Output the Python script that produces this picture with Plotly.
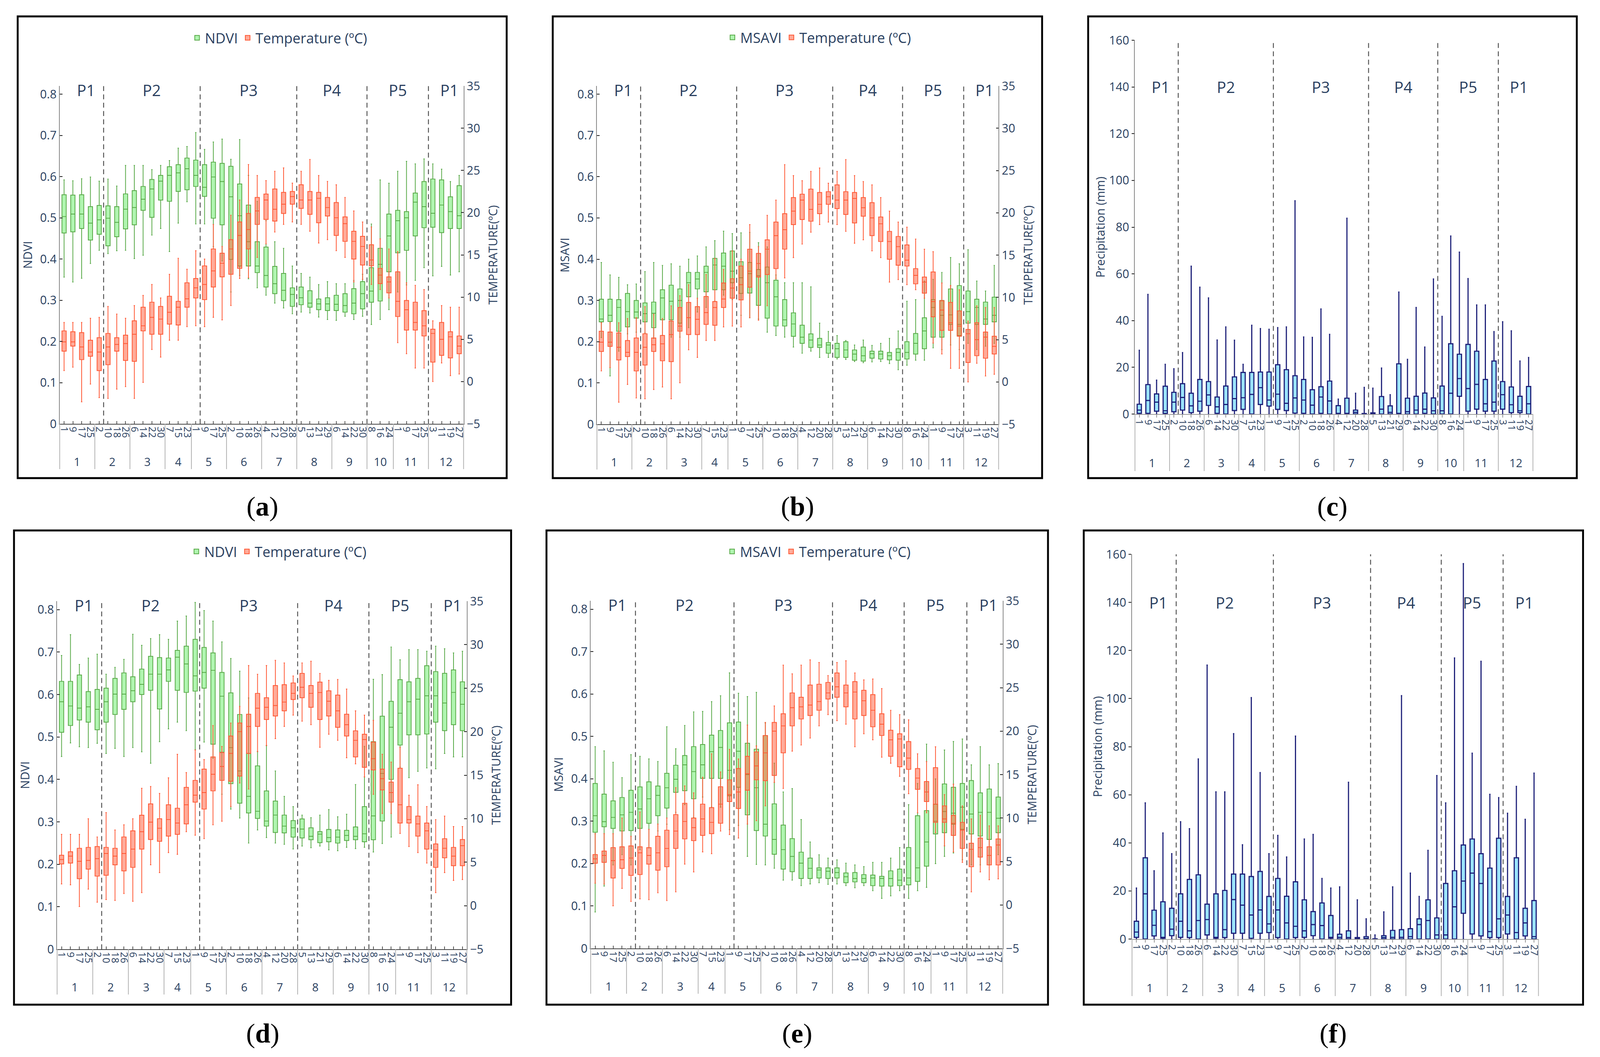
import plotly.graph_objects as go

# 8-day composites, grouped by month
MONTH_DAYS = [
    ("1", ["1", "9", "17", "25"]),
    ("2", ["2", "10", "18", "26"]),
    ("3", ["6", "14", "22", "30"]),
    ("4", ["7", "15", "23"]),
    ("5", ["1", "9", "17", "25"]),
    ("6", ["2", "10", "18", "26"]),
    ("7", ["4", "12", "20", "28"]),
    ("8", ["5", "13", "21", "29"]),
    ("9", ["6", "14", "22", "30"]),
    ("10", ["8", "16", "24"]),
    ("11", ["1", "9", "17", "25"]),
    ("12", ["3", "11", "19", "27"]),
]
MONTHS = [m for m, ds in MONTH_DAYS for _ in ds]
DAYS = [d for _, ds in MONTH_DAYS for d in ds]
CATS = [f"{m}/{d}" for m, d in zip(MONTHS, DAYS)]

# first composite of each new period
PERIOD_START = ["2/10", "5/9", "8/5", "10/8", "12/3"]
PERIOD_NAMES = ["P1", "P2", "P3", "P4", "P5", "P1"]

# box stats per composite: (lower whisker, q1, median, q3, upper whisker)
NDVI_A = [
    (0.356, 0.463, 0.503, 0.556, 0.592), (0.344, 0.466, 0.509, 0.555, 0.590),
    (0.353, 0.474, 0.509, 0.556, 0.595), (0.389, 0.446, 0.487, 0.527, 0.599),
    (0.421, 0.460, 0.495, 0.530, 0.589), (0.413, 0.432, 0.499, 0.529, 0.594),
    (0.420, 0.454, 0.489, 0.527, 0.577), (0.421, 0.473, 0.521, 0.558, 0.627),
    (0.401, 0.483, 0.525, 0.566, 0.627), (0.409, 0.518, 0.545, 0.576, 0.627),
    (0.458, 0.501, 0.570, 0.593, 0.617), (0.474, 0.543, 0.589, 0.603, 0.627),
    (0.418, 0.540, 0.603, 0.624, 0.639), (0.487, 0.564, 0.609, 0.629, 0.669),
    (0.539, 0.568, 0.619, 0.645, 0.673), (0.485, 0.576, 0.603, 0.640, 0.707),
    (0.485, 0.552, 0.574, 0.629, 0.666), (0.430, 0.499, 0.599, 0.635, 0.684),
    (0.395, 0.483, 0.588, 0.632, 0.691), (0.320, 0.399, 0.551, 0.625, 0.642),
    (0.360, 0.383, 0.505, 0.582, 0.690), (0.352, 0.383, 0.442, 0.531, 0.603),
    (0.330, 0.367, 0.383, 0.442, 0.540), (0.312, 0.332, 0.360, 0.429, 0.493),
    (0.293, 0.316, 0.340, 0.382, 0.442), (0.281, 0.299, 0.324, 0.365, 0.426),
    (0.267, 0.285, 0.314, 0.330, 0.383), (0.271, 0.289, 0.306, 0.332, 0.365),
    (0.269, 0.283, 0.293, 0.323, 0.356), (0.259, 0.277, 0.291, 0.303, 0.338),
    (0.253, 0.275, 0.291, 0.306, 0.345), (0.251, 0.275, 0.290, 0.312, 0.340),
    (0.261, 0.271, 0.287, 0.316, 0.340), (0.253, 0.267, 0.293, 0.328, 0.348),
    (0.261, 0.279, 0.316, 0.345, 0.363), (0.241, 0.295, 0.322, 0.379, 0.485),
    (0.253, 0.298, 0.387, 0.426, 0.592), (0.277, 0.369, 0.456, 0.509, 0.584),
    (0.320, 0.415, 0.493, 0.518, 0.613), (0.337, 0.421, 0.500, 0.515, 0.637),
    (0.348, 0.456, 0.538, 0.560, 0.631), (0.379, 0.476, 0.527, 0.588, 0.643),
    (0.359, 0.477, 0.511, 0.594, 0.631), (0.382, 0.464, 0.531, 0.592, 0.618),
    (0.361, 0.474, 0.515, 0.551, 0.588), (0.369, 0.474, 0.505, 0.578, 0.603),
]

MSAVI_B = [
    (0.210, 0.248, 0.255, 0.303, 0.392), (0.117, 0.249, 0.264, 0.303, 0.362),
    (0.177, 0.225, 0.283, 0.302, 0.356), (0.219, 0.236, 0.273, 0.317, 0.338),
    (0.223, 0.257, 0.272, 0.300, 0.340), (0.221, 0.248, 0.268, 0.294, 0.370),
    (0.208, 0.234, 0.269, 0.296, 0.392), (0.215, 0.253, 0.306, 0.326, 0.385),
    (0.211, 0.253, 0.298, 0.337, 0.389), (0.211, 0.245, 0.300, 0.328, 0.383),
    (0.234, 0.309, 0.343, 0.368, 0.400), (0.272, 0.328, 0.352, 0.368, 0.408),
    (0.283, 0.321, 0.368, 0.383, 0.430), (0.298, 0.326, 0.386, 0.402, 0.445),
    (0.313, 0.326, 0.383, 0.415, 0.468), (0.302, 0.343, 0.371, 0.420, 0.462),
    (0.264, 0.317, 0.355, 0.394, 0.464), (0.258, 0.318, 0.365, 0.392, 0.465),
    (0.255, 0.288, 0.360, 0.375, 0.440), (0.223, 0.257, 0.343, 0.381, 0.430),
    (0.215, 0.238, 0.309, 0.349, 0.362), (0.211, 0.238, 0.253, 0.302, 0.343),
    (0.187, 0.213, 0.243, 0.270, 0.343), (0.172, 0.196, 0.211, 0.240, 0.343),
    (0.177, 0.186, 0.204, 0.219, 0.333), (0.162, 0.186, 0.192, 0.208, 0.245),
    (0.162, 0.172, 0.192, 0.198, 0.225), (0.158, 0.162, 0.183, 0.196, 0.215),
    (0.157, 0.162, 0.180, 0.200, 0.203), (0.152, 0.155, 0.170, 0.180, 0.192),
    (0.149, 0.153, 0.166, 0.187, 0.204), (0.151, 0.160, 0.171, 0.177, 0.191),
    (0.152, 0.158, 0.170, 0.177, 0.196), (0.147, 0.156, 0.166, 0.174, 0.208),
    (0.132, 0.155, 0.174, 0.183, 0.226), (0.143, 0.158, 0.174, 0.200, 0.298),
    (0.155, 0.170, 0.196, 0.220, 0.302), (0.155, 0.183, 0.226, 0.258, 0.347),
    (0.185, 0.211, 0.283, 0.302, 0.351), (0.181, 0.211, 0.264, 0.300, 0.368),
    (0.192, 0.242, 0.265, 0.328, 0.404), (0.181, 0.215, 0.242, 0.336, 0.389),
    (0.196, 0.245, 0.273, 0.323, 0.423), (0.181, 0.242, 0.283, 0.303, 0.347),
    (0.189, 0.242, 0.255, 0.296, 0.323), (0.196, 0.248, 0.264, 0.308, 0.385),
]

# temperature (degC) shown in (a) and (b)
TEMP_AB = [
    (1.3, 3.6, 4.7, 6.0, 7.0), (1.7, 4.2, 4.7, 5.9, 7.0), (-2.4, 2.6, 4.1, 5.8, 7.0),
    (-0.3, 3.0, 3.5, 4.9, 7.5), (-1.9, 1.3, 3.5, 5.2, 7.6), (-2.0, 2.0, 4.1, 5.7, 8.9),
    (-0.9, 3.6, 4.4, 5.2, 8.0), (-0.6, 2.5, 4.5, 5.5, 7.5), (-2.0, 2.4, 5.6, 7.2, 9.0),
    (-0.1, 6.0, 6.6, 8.8, 10.2), (3.8, 5.6, 7.6, 9.4, 11.5), (2.9, 5.6, 7.4, 8.9, 9.9),
    (4.9, 6.8, 8.2, 10.1, 12.7), (4.9, 6.7, 8.8, 9.5, 14.6), (6.5, 8.8, 9.8, 11.7, 13.3),
    (6.6, 9.9, 11.1, 12.2, 15.5), (6.5, 9.7, 11.5, 13.7, 14.5), (7.6, 11.2, 13.1, 15.7, 18.6),
    (7.3, 12.4, 14.0, 15.2, 16.0), (9.0, 12.7, 15.7, 16.8, 19.7), (12.2, 13.4, 17.3, 18.9, 21.5),
    (12.3, 15.7, 18.0, 19.9, 25.7), (14.7, 18.6, 20.2, 21.8, 24.4), (16.3, 19.2, 21.5, 22.2, 23.8),
    (17.7, 19.0, 20.4, 22.8, 24.9), (18.6, 19.9, 21.0, 22.4, 25.3), (18.9, 21.0, 21.9, 22.5, 23.5),
    (18.6, 20.5, 21.5, 23.3, 24.9), (17.8, 19.8, 21.5, 22.5, 26.3), (16.4, 18.8, 21.7, 22.4, 24.4),
    (16.8, 19.6, 20.6, 21.8, 23.7), (15.5, 17.3, 19.4, 21.2, 23.3), (14.7, 16.6, 18.7, 19.5, 21.8),
    (11.8, 14.5, 16.6, 17.8, 20.2), (12.1, 13.8, 16.0, 17.2, 18.9), (11.5, 13.7, 14.4, 16.2, 18.3),
    (10.9, 11.6, 12.6, 13.4, 16.9), (9.9, 10.5, 11.8, 12.4, 15.7), (4.6, 7.7, 9.5, 13.0, 15.4),
    (3.3, 6.1, 8.5, 9.6, 11.7), (1.6, 6.1, 7.0, 9.4, 11.4), (1.6, 5.4, 6.6, 8.4, 10.9),
    (0.0, 2.3, 5.7, 6.2, 7.2), (2.2, 3.1, 5.0, 7.0, 9.0), (0.7, 2.8, 5.3, 5.9, 8.8),
    (0.9, 3.3, 4.2, 5.4, 8.8),
]

PRECIP_C = [
    (0, 0.3, 1.7, 4.2, 27.3), (0, 0.3, 5.8, 12.6, 51.2), (0, 1.2, 5.1, 8.6, 14.5),
    (0, 0.3, 1.4, 11.9, 21.3), (0, 1.0, 5.1, 9.3, 19.4), (0, 1.7, 7.1, 13.0, 26.3),
    (0, 0.6, 3.5, 8.9, 63.3), (0, 1.2, 5.5, 14.8, 54.3), (0, 3.7, 8.2, 13.9, 49.7),
    (0, 0.3, 3.1, 7.3, 31.7), (0, 0.0, 4.1, 12.0, 37.3), (0, 1.5, 6.6, 15.9, 31.6),
    (0, 2.0, 7.0, 17.8, 21.3), (0, 0.0, 8.4, 17.8, 38.0), (0, 4.1, 11.3, 18.0, 36.6),
    (0, 3.4, 6.0, 18.0, 36.3), (0, 2.0, 8.5, 21.1, 37.0), (0, 1.5, 4.6, 19.0, 37.3),
    (0, 0.4, 6.9, 16.4, 91.3), (0, 0.3, 6.0, 14.8, 33.0), (0, 0.0, 3.8, 10.4, 32.8),
    (0, 0.3, 7.3, 11.7, 45.0), (0, 0.0, 5.6, 14.1, 34.1), (0, 0.0, 0.3, 3.6, 6.4),
    (0, 0.0, 0.3, 6.8, 83.8), (0, 0.0, 0.7, 1.7, 8.9), (0, 0.0, 0.0, 0.2, 11.4),
    (0, 0.0, 0.2, 0.5, 11.1), (0, 0.0, 2.1, 7.5, 19.7), (0, 0.0, 0.7, 3.5, 8.3),
    (0, 0.0, 0.3, 21.5, 52.2), (0, 0.0, 1.0, 6.8, 23.4), (0, 0.0, 1.7, 7.6, 45.6),
    (0, 0.3, 2.1, 9.0, 28.7), (0, 0.0, 1.4, 6.9, 57.8), (0, 0.0, 1.4, 12.0, 41.8),
    (0, 0.0, 8.9, 30.1, 76.2), (0, 7.6, 15.2, 25.6, 69.3), (0, 1.2, 10.9, 29.8, 58.0),
    (0, 2.1, 12.7, 26.9, 46.7), (0, 1.2, 4.4, 14.8, 46.7), (0, 1.2, 5.1, 22.7, 35.3),
    (0, 2.1, 8.3, 13.9, 39.5), (0, 0.6, 4.0, 11.6, 35.6), (0, 0.6, 1.4, 7.6, 22.7),
    (0, 0.0, 4.4, 11.8, 24.2),
]

NDVI_D = [
    (0.454, 0.511, 0.583, 0.631, 0.692), (0.486, 0.527, 0.573, 0.631, 0.741),
    (0.477, 0.540, 0.568, 0.646, 0.671), (0.475, 0.535, 0.571, 0.607, 0.686),
    (0.485, 0.517, 0.565, 0.612, 0.695), (0.461, 0.535, 0.583, 0.615, 0.648),
    (0.473, 0.553, 0.601, 0.638, 0.664), (0.454, 0.565, 0.601, 0.651, 0.683),
    (0.475, 0.583, 0.609, 0.642, 0.742), (0.465, 0.600, 0.624, 0.660, 0.716),
    (0.438, 0.610, 0.648, 0.690, 0.732), (0.489, 0.566, 0.648, 0.687, 0.741),
    (0.519, 0.631, 0.658, 0.686, 0.730), (0.535, 0.610, 0.688, 0.704, 0.773),
    (0.515, 0.605, 0.672, 0.714, 0.785), (0.470, 0.608, 0.644, 0.730, 0.817),
    (0.488, 0.615, 0.652, 0.711, 0.798), (0.450, 0.483, 0.657, 0.698, 0.773),
    (0.365, 0.464, 0.596, 0.652, 0.724), (0.330, 0.390, 0.475, 0.604, 0.685),
    (0.309, 0.344, 0.420, 0.553, 0.655), (0.250, 0.321, 0.360, 0.461, 0.592),
    (0.281, 0.308, 0.325, 0.432, 0.466), (0.263, 0.290, 0.302, 0.373, 0.480),
    (0.250, 0.275, 0.316, 0.349, 0.420), (0.247, 0.274, 0.290, 0.316, 0.360),
    (0.236, 0.264, 0.286, 0.303, 0.336), (0.243, 0.262, 0.283, 0.307, 0.316),
    (0.239, 0.258, 0.266, 0.286, 0.310), (0.243, 0.251, 0.271, 0.277, 0.316),
    (0.234, 0.253, 0.263, 0.282, 0.329), (0.232, 0.250, 0.264, 0.281, 0.312),
    (0.240, 0.256, 0.268, 0.280, 0.318), (0.237, 0.258, 0.266, 0.288, 0.388),
    (0.240, 0.253, 0.272, 0.336, 0.478), (0.229, 0.258, 0.314, 0.489, 0.636),
    (0.249, 0.302, 0.414, 0.549, 0.647), (0.264, 0.400, 0.523, 0.584, 0.712),
    (0.429, 0.481, 0.556, 0.635, 0.682), (0.404, 0.505, 0.583, 0.630, 0.706),
    (0.419, 0.505, 0.589, 0.638, 0.706), (0.427, 0.507, 0.597, 0.668, 0.702),
    (0.425, 0.535, 0.597, 0.654, 0.714), (0.461, 0.515, 0.580, 0.650, 0.708),
    (0.453, 0.529, 0.605, 0.658, 0.698), (0.453, 0.515, 0.577, 0.630, 0.702),
]

MSAVI_E = [
    (0.086, 0.274, 0.313, 0.389, 0.476), (0.147, 0.287, 0.299, 0.364, 0.466),
    (0.197, 0.283, 0.309, 0.348, 0.439), (0.221, 0.277, 0.315, 0.356, 0.403),
    (0.197, 0.278, 0.321, 0.373, 0.457), (0.233, 0.283, 0.329, 0.381, 0.453),
    (0.237, 0.295, 0.353, 0.393, 0.447), (0.277, 0.313, 0.361, 0.383, 0.441),
    (0.293, 0.331, 0.379, 0.413, 0.523), (0.321, 0.368, 0.399, 0.432, 0.471),
    (0.339, 0.372, 0.433, 0.455, 0.526), (0.309, 0.353, 0.417, 0.476, 0.558),
    (0.357, 0.401, 0.433, 0.481, 0.559), (0.333, 0.401, 0.464, 0.503, 0.582),
    (0.333, 0.401, 0.474, 0.514, 0.596), (0.280, 0.360, 0.420, 0.532, 0.650),
    (0.290, 0.380, 0.465, 0.534, 0.602), (0.217, 0.315, 0.410, 0.484, 0.594),
    (0.198, 0.278, 0.379, 0.470, 0.604), (0.197, 0.265, 0.293, 0.502, 0.532),
    (0.189, 0.222, 0.257, 0.341, 0.437), (0.161, 0.187, 0.233, 0.291, 0.369),
    (0.161, 0.181, 0.217, 0.259, 0.377), (0.148, 0.165, 0.201, 0.227, 0.304),
    (0.152, 0.165, 0.189, 0.213, 0.251), (0.155, 0.166, 0.185, 0.190, 0.221),
    (0.151, 0.165, 0.182, 0.190, 0.213), (0.152, 0.166, 0.179, 0.190, 0.209),
    (0.148, 0.155, 0.169, 0.178, 0.201), (0.143, 0.157, 0.165, 0.179, 0.197),
    (0.148, 0.155, 0.165, 0.174, 0.193), (0.136, 0.148, 0.166, 0.173, 0.203),
    (0.118, 0.147, 0.165, 0.170, 0.203), (0.124, 0.147, 0.165, 0.183, 0.213),
    (0.136, 0.148, 0.161, 0.187, 0.238), (0.118, 0.150, 0.166, 0.238, 0.339),
    (0.136, 0.158, 0.190, 0.313, 0.389), (0.144, 0.194, 0.251, 0.325, 0.482),
    (0.200, 0.270, 0.300, 0.340, 0.400), (0.217, 0.273, 0.323, 0.388, 0.468),
    (0.225, 0.293, 0.319, 0.380, 0.488), (0.209, 0.281, 0.333, 0.389, 0.494),
    (0.197, 0.270, 0.317, 0.396, 0.433), (0.197, 0.265, 0.321, 0.367, 0.476),
    (0.197, 0.257, 0.321, 0.376, 0.433), (0.221, 0.273, 0.307, 0.357, 0.436),
]

# temperature (degC) shown in (d) and (e)
TEMP_DE = [
    (2.5, 4.8, 5.3, 5.8, 8.2), (2.4, 4.9, 5.7, 6.2, 8.2), (-0.1, 3.1, 5.1, 6.6, 8.2),
    (1.9, 4.2, 5.2, 6.7, 10.0), (0.4, 3.4, 5.4, 6.8, 7.9), (0.7, 3.5, 6.0, 6.7, 10.7),
    (0.6, 4.7, 5.7, 6.6, 8.7), (1.4, 4.0, 6.0, 7.9, 9.3), (0.5, 4.4, 6.5, 8.6, 10.0),
    (1.5, 6.5, 8.5, 10.4, 13.5), (4.7, 7.6, 9.6, 11.7, 13.7), (3.8, 7.4, 8.9, 10.0, 12.9),
    (6.1, 8.0, 9.9, 11.6, 14.7), (5.9, 8.2, 9.5, 11.2, 17.4), (8.5, 9.4, 11.6, 13.6, 15.3),
    (8.1, 11.9, 12.7, 14.4, 17.9), (7.7, 11.1, 13.0, 15.7, 16.8), (9.3, 13.2, 15.1, 17.1, 20.7),
    (9.7, 14.4, 16.0, 17.6, 18.3), (11.4, 14.3, 17.5, 19.5, 21.0), (14.1, 14.9, 20.0, 21.0, 22.9),
    (13.4, 17.5, 20.6, 22.0, 27.6), (17.7, 20.6, 22.7, 24.4, 26.6), (18.4, 21.4, 22.8, 23.9, 27.6),
    (19.2, 21.8, 23.0, 25.3, 28.2), (20.6, 22.4, 23.4, 25.4, 27.9), (21.9, 23.7, 24.4, 25.6, 26.4),
    (21.2, 23.9, 25.1, 26.7, 27.9), (20.8, 22.8, 24.4, 25.3, 28.1), (18.2, 21.4, 24.5, 25.7, 26.7),
    (19.7, 21.8, 23.5, 24.7, 25.9), (19.0, 20.5, 22.4, 24.2, 26.0), (17.0, 19.5, 20.8, 22.0, 24.9),
    (16.3, 17.1, 19.0, 20.1, 22.4), (14.8, 15.9, 19.1, 19.7, 21.9), (12.8, 15.6, 16.9, 18.8, 21.3),
    (10.6, 13.3, 14.6, 15.7, 17.4), (10.6, 11.9, 13.0, 14.2, 16.5), (8.3, 9.5, 11.6, 15.8, 18.2),
    (6.8, 9.5, 9.9, 11.4, 12.7), (6.1, 8.0, 9.4, 10.3, 13.9), (4.9, 6.5, 8.6, 9.5, 11.4),
    (1.5, 4.4, 6.4, 7.1, 9.9), (3.8, 5.5, 6.6, 7.7, 10.3), (2.9, 4.6, 5.7, 6.7, 9.1),
    (3.0, 4.6, 6.9, 7.6, 9.1),
]

PRECIP_F = [
    (0, 0.7, 2.9, 7.4, 21.2), (0, 0.0, 18.8, 33.8, 56.6), (0, 1.3, 5.7, 12.0, 28.4),
    (0, 0.3, 0.7, 15.5, 44.1), (0, 1.4, 4.1, 12.8, 35.5), (0, 0.7, 7.4, 18.8, 48.8),
    (0, 0.6, 3.4, 24.8, 45.9), (0, 0.0, 7.7, 26.7, 74.9), (0, 1.7, 8.1, 14.5, 113.9),
    (0, 0.3, 0.7, 18.8, 61.2), (0, 0.6, 3.9, 20.2, 61.2), (0, 2.4, 16.4, 27.0, 85.4),
    (0, 2.4, 14.1, 27.0, 39.2), (0, 0.3, 10.0, 26.0, 100.4), (0, 2.4, 12.1, 28.1, 69.2),
    (0, 2.7, 6.3, 17.7, 35.5), (0, 0.6, 12.1, 25.2, 43.1), (0, 0.0, 6.7, 17.8, 34.1),
    (0, 0.6, 5.3, 23.8, 84.4), (0, 0.7, 3.4, 16.3, 41.6), (0, 1.4, 6.0, 11.4, 43.5),
    (0, 0.0, 5.6, 15.0, 25.2), (0, 0.3, 0.7, 9.8, 21.2), (0, 0.0, 0.7, 2.0, 21.7),
    (0, 0.0, 0.6, 3.4, 65.2), (0, 0.0, 0.3, 0.6, 16.3), (0, 0.0, 0.3, 1.0, 8.4),
    (0, 0.0, 0.0, 0.1, 1.7), (0, 0.0, 0.6, 1.4, 11.3), (0, 0.0, 0.7, 3.6, 21.7),
    (0, 0.0, 0.7, 3.9, 101.2), (0, 0.0, 1.0, 4.3, 27.4), (0, 0.0, 6.0, 8.4, 17.7),
    (0, 0.0, 7.7, 16.3, 36.9), (0, 0.0, 1.7, 8.8, 68.0), (0, 0.0, 1.7, 23.1, 56.6),
    (0, 0.0, 13.4, 28.4, 116.9), (0, 10.7, 24.1, 39.1, 156.1), (0, 2.1, 27.4, 41.6, 77.3),
    (0, 1.3, 23.1, 35.5, 115.5), (0, 0.6, 3.1, 29.5, 60.2), (0, 0.6, 8.4, 41.9, 58.8),
    (0, 2.1, 10.0, 17.7, 52.3), (0, 0.0, 2.7, 33.8, 63.5), (0, 1.3, 6.7, 12.8, 49.8),
    (0, 0.0, 1.0, 16.0, 69.0),
]

# positions below are measured on a 4342 x 2706 canvas and used as paper fractions;
# the page fills the browser viewport, so pixel sizes get scaled by S
W, H = 4342, 2706
S = 0.97
FONT = "Open Sans"
TXT = "#2a3f5f"
GREEN, GREEN_FILL = "#56a845", "rgba(80,232,80,0.45)"
RED, RED_FILL = "#ff5733", "rgba(255,87,51,0.5)"
BLUE, BLUE_FILL = "#1c1f78", "rgba(55,200,250,0.5)"


def px(v):
    return v * S


# plot area (left, right, top, bottom), frame, legend centre
PANELS = [
    dict(tag="a", plot=(162, 1258, 220, 1085), frame=(48, 1375, 42, 1224), legend=(758, 97),
         left=("NDVI", NDVI_A), temp=TEMP_AB),
    dict(tag="b", plot=(1620, 2710, 220, 1086), frame=(1500, 2828, 42, 1224), legend=(2222, 96),
         left=("MSAVI", MSAVI_B), temp=TEMP_AB),
    dict(tag="c", plot=(3080, 4160, 103, 1060), frame=(2953, 4279, 42, 1224), legend=None,
         left=("Precipitation (mm)", PRECIP_C), temp=None),
    dict(tag="d", plot=(155, 1267, 1539, 2430), frame=(38, 1387, 1358, 2572), legend=(756, 1412),
         left=("NDVI", NDVI_D), temp=TEMP_DE),
    dict(tag="e", plot=(1603, 2721, 1538, 2428), frame=(1483, 2844, 1358, 2572), legend=(2221, 1412),
         left=("MSAVI", MSAVI_E), temp=TEMP_DE),
    dict(tag="f", plot=(3072, 4175, 1419, 2404), frame=(2941, 4296, 1358, 2572), legend=None,
         left=("Precipitation (mm)", PRECIP_F), temp=None),
]

n = len(CATS)
bounds = [CATS.index(c) - 0.5 for c in PERIOD_START]
edges = [-0.5] + bounds + [n - 0.5]
label_pos = [(edges[i] + edges[i + 1]) / 2 for i in range(len(PERIOD_NAMES))]
label_pos[0] += 0.5
label_pos[-1] += 0.4

# month groups on the category axis
month_edges = [-0.5]
month_mid = []
for m, ds in MONTH_DAYS:
    start = month_edges[-1]
    month_edges.append(start + len(ds))
    month_mid.append((m, start + len(ds) / 2))


def frac(pos):
    return (pos + 0.5) / n


def box(rows, name, xa, ya, color, fill, lw, legend):
    lo, q1, med, q3, hi = zip(*rows)
    return go.Box(
        x=CATS, lowerfence=lo, q1=q1, median=med, q3=q3, upperfence=hi,
        name=name, xaxis=xa, yaxis=ya, line=dict(color=color, width=px(lw)),
        fillcolor=fill, whiskerwidth=0.3, boxpoints=False, hoverinfo="skip",
        showlegend=legend is not None, legend=legend or "legend",
    )


fig = go.Figure()
layout = {}
shapes, annotations = [], []
temp_axis = 7
legend_no = 1

for k, p in enumerate(PANELS, start=1):
    xid = "x" if k == 1 else f"x{k}"
    yid = "y" if k == 1 else f"y{k}"
    l, r, t, b = p["plot"]
    is_veg = p["temp"] is not None
    title, rows = p["left"]
    leg = None
    if p["legend"]:
        leg = "legend" if legend_no == 1 else f"legend{legend_no}"
        legend_no += 1
        lx, ly = p["legend"]
        layout[leg] = dict(x=lx / W, y=1 - ly / H, xanchor="center", yanchor="middle",
                           orientation="h", font=dict(size=px(37), color=TXT),
                           bgcolor="rgba(0,0,0,0)", itemwidth=30)

    if is_veg:
        fig.add_trace(box(rows, title, xid, yid, GREEN, GREEN_FILL, 2, leg))
    else:
        fig.add_trace(box(rows, title, xid, yid, BLUE, BLUE_FILL, 3, None))

    layout["xaxis" if k == 1 else f"xaxis{k}"] = dict(
        domain=[l / W, r / W], anchor=yid, type="category", range=[-0.5, n - 0.5],
        tickmode="array", tickvals=CATS, ticktext=DAYS,
        tickangle=90, tickfont=dict(size=px(26), color=TXT), showgrid=False, zeroline=False,
        showline=True, linecolor="#444" if is_veg else "#999", linewidth=px(2),
        ticks="inside" if is_veg else "outside", ticklen=px(7), tickwidth=px(2),
        tickcolor="#555" if is_veg else "#999",
    )
    yleft = dict(
        domain=[1 - b / H, 1 - t / H], anchor=xid, showgrid=False, zeroline=False,
        showline=True, linecolor="#888", linewidth=px(2), ticklen=px(7), tickwidth=px(2),
        tickcolor="#222", tickfont=dict(size=px(31), color=TXT),
        title=dict(text=title, font=dict(size=px(31), color=TXT)),
    )
    if is_veg:
        yleft.update(range=[0, 0.82], tick0=0, dtick=0.1, ticks="inside")
    else:
        yleft.update(range=[0, 160], tick0=0, dtick=20, ticks="outside")
    layout["yaxis" if k == 1 else f"yaxis{k}"] = yleft

    if is_veg:
        tid = f"y{temp_axis}"
        fig.add_trace(box(p["temp"], "Temperature (ºC)", xid, tid, RED, RED_FILL, 2, leg))
        layout[f"yaxis{temp_axis}"] = dict(
            overlaying=yid, side="right", anchor=xid, range=[-5, 35], tick0=-5, dtick=5,
            showgrid=False, zeroline=False, showline=True, linecolor="#888", linewidth=px(2),
            ticks="inside", ticklen=px(7), tickwidth=px(2), tickcolor="#222",
            tickfont=dict(size=px(31), color=TXT),
            title=dict(text="TEMPERATURE(ºC)", font=dict(size=px(31), color=TXT)),
        )
        temp_axis += 1

    # month group labels and dividers below the day labels
    lab_drop, div_drop = (97, 116) if is_veg else (125, 146)
    for m, mid in month_mid:
        annotations.append(dict(xref="paper", yref="paper", x=(l + frac(mid) * (r - l)) / W,
                                y=1 - (b + lab_drop) / H, text=m, showarrow=False,
                                xanchor="center", yanchor="middle",
                                font=dict(size=px(30), color=TXT)))
    for e in month_edges:
        xp = (l + frac(e) * (r - l)) / W
        shapes.append(dict(type="line", xref="paper", yref="paper", x0=xp, x1=xp,
                           y0=1 - b / H, y1=1 - (b + div_drop) / H,
                           line=dict(color="#b0b0b0", width=px(2))))

    # period separators and labels
    for bd in bounds:
        shapes.append(dict(type="line", xref=f"{xid} domain", yref=f"{yid} domain",
                           x0=frac(bd), x1=frac(bd), y0=0, y1=1,
                           line=dict(color="#555", width=px(2.5),
                                     dash=f"{px(13):.1f}px,{px(9):.1f}px")))
    for name, pos in zip(PERIOD_NAMES, label_pos):
        annotations.append(dict(xref=f"{xid} domain", yref=yid, x=frac(pos),
                                y=0.81 if is_veg else 140, text=name, showarrow=False,
                                xanchor="center", yanchor="middle",
                                font=dict(size=px(41), color=TXT)))

    # frame and panel letter
    fl, fr, ft, fb = p["frame"]
    shapes.append(dict(type="rect", xref="paper", yref="paper", x0=fl / W, x1=fr / W,
                       y0=1 - fb / H, y1=1 - ft / H, line=dict(color="black", width=px(5)),
                       fillcolor="rgba(0,0,0,0)"))
    annotations.append(dict(xref="paper", yref="paper", x=(fl + fr) / 2 / W,
                            y=1 - (fb + 73) / H, text=f"(<b>{p['tag']}</b>)", showarrow=False,
                            xanchor="center", yanchor="middle",
                            font=dict(family="Liberation Serif", size=px(72), color="black")))

fig.update_layout(
    autosize=True, template="none",
    margin=dict(l=0, r=0, t=0, b=0),
    paper_bgcolor="white", plot_bgcolor="white",
    font=dict(family=FONT, color=TXT, size=px(31)),
    boxmode="overlay", boxgap=0.3,
    shapes=shapes, annotations=annotations,
    **layout,
)

fig.write_html(
    "out.html",
    config={"displayModeBar": False},
    default_width="100vw", default_height="100vh",
    post_script="document.body.style.margin='0';document.body.style.overflow='hidden';",
)
